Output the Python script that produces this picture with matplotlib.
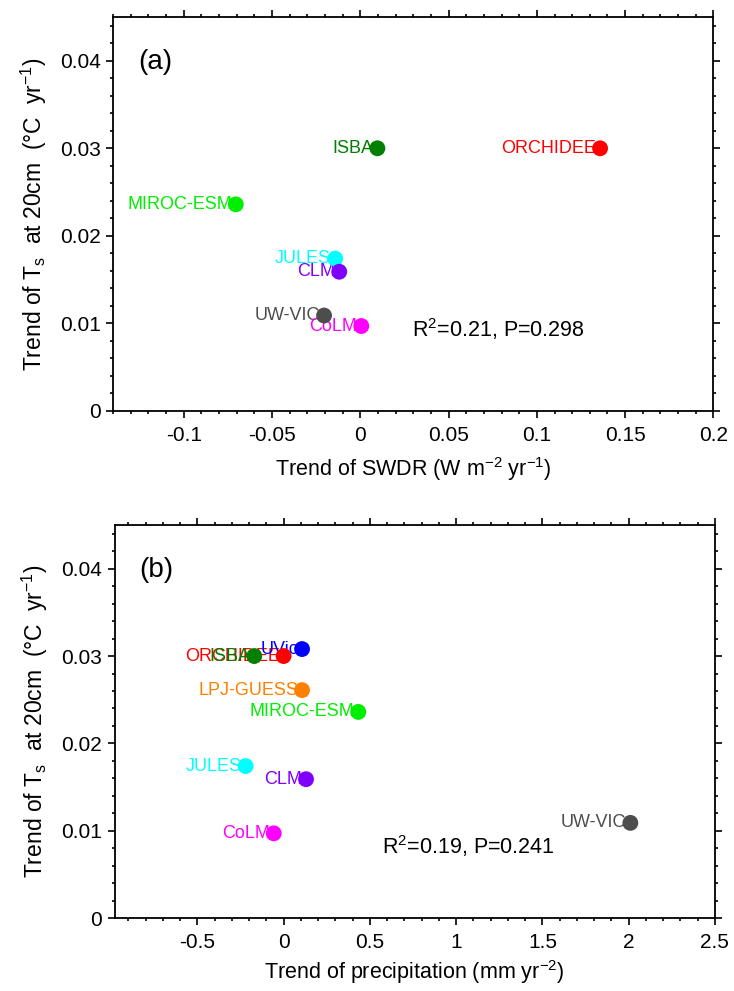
import numpy as np
import matplotlib
matplotlib.use('Agg')
import matplotlib.pyplot as plt
from matplotlib.ticker import MultipleLocator, FuncFormatter

plt.rcParams['font.family'] = ['Liberation Sans', 'DejaVu Sans']
plt.rcParams['mathtext.default'] = 'regular'

# model trends
models_a = ['ISBA', 'MIROC-ESM', 'JULES', 'CLM', 'UW-VIC', 'CoLM', 'ORCHIDEE']
swdr = [0.0097, -0.0705, -0.0142, -0.0119, -0.0205, 0.0006, 0.1358]
ts_a = [0.0300, 0.0236, 0.0174, 0.0159, 0.0109, 0.0097, 0.0300]

models_b = ['ORCHIDEE', 'ISBA', 'UVic', 'LPJ-GUESS', 'MIROC-ESM', 'JULES', 'CLM', 'CoLM', 'UW-VIC']
prec = [0.0, -0.17, 0.107, 0.107, 0.433, -0.22, 0.13, -0.057, 2.01]
ts_b = [0.0300, 0.0300, 0.0308, 0.0261, 0.0236, 0.0174, 0.0159, 0.0097, 0.0109]

colors = {'ISBA': '#007f00', 'MIROC-ESM': '#00ee00', 'JULES': '#00ffff',
          'CLM': '#7f00ff', 'UW-VIC': '#4d4d4d', 'CoLM': '#ff00ff',
          'ORCHIDEE': '#ff0000', 'UVic': '#0000ff', 'LPJ-GUESS': '#ff8000'}

ylab = 'Trend of T$_s$  at 20cm  (°C  yr$^{-1}$)'
fmt = FuncFormatter(lambda v, p: '%g' % round(v, 6))


def panel(ax, names, xs, ys, xlim, xmaj, xmin, xlabel, tag, stat, statxy, xpad):
    for n, x, y in zip(names, xs, ys):
        ax.annotate(n, (x, y), xytext=(-4, 0), textcoords='offset pixels',
                    ha='right', va='center', color=colors[n], fontsize=13, zorder=2)
    ax.scatter(xs, ys, s=130, c=[colors[n] for n in names], zorder=3, linewidths=0)
    ax.set_xlim(*xlim)
    ax.set_ylim(0, 0.045)
    ax.xaxis.set_major_locator(MultipleLocator(xmaj))
    ax.xaxis.set_minor_locator(MultipleLocator(xmin))
    ax.yaxis.set_major_locator(MultipleLocator(0.01))
    ax.yaxis.set_minor_locator(MultipleLocator(0.002))
    ax.xaxis.set_major_formatter(fmt)
    ax.yaxis.set_major_formatter(fmt)
    ax.tick_params(which='both', direction='out', top=True, right=True,
                   labeltop=False, labelright=False, labelsize=15, width=1.2)
    ax.tick_params(which='major', length=5, pad=4)
    ax.tick_params(which='minor', length=2.5)
    ax.tick_params(axis='x', which='major', pad=6)
    for sp in ax.spines.values():
        sp.set_linewidth(1.3)
    ax.set_xlabel(xlabel, fontsize=15.5, labelpad=xpad)
    ax.set_ylabel(ylab, fontsize=16.5, labelpad=8)
    ax.text(0.042, 0.886, tag, transform=ax.transAxes, fontsize=20, va='center')
    ax.text(statxy[0], statxy[1], stat, fontsize=15.5, va='center')


fig = plt.figure(figsize=(7.34, 9.91), dpi=100)
ax1 = fig.add_axes([0.154, 0.5853, 0.818, 0.3976])
ax2 = fig.add_axes([0.156, 0.0736, 0.818, 0.3966])

panel(ax1, models_a, swdr, ts_a, (-0.14, 0.2), 0.05, 0.01,
      'Trend of SWDR (W m$^{-2}$ yr$^{-1}$)', '(a)',
      'R$^2$=0.21, P=0.298', (0.0295, 0.0093), 7)
panel(ax2, models_b, prec, ts_b, (-0.98, 2.5), 0.5, 0.1,
      'Trend of precipitation (mm yr$^{-2}$)', '(b)',
      'R$^2$=0.19, P=0.241', (0.57, 0.0083), 4)

fig.savefig('out.png', dpi=100)
